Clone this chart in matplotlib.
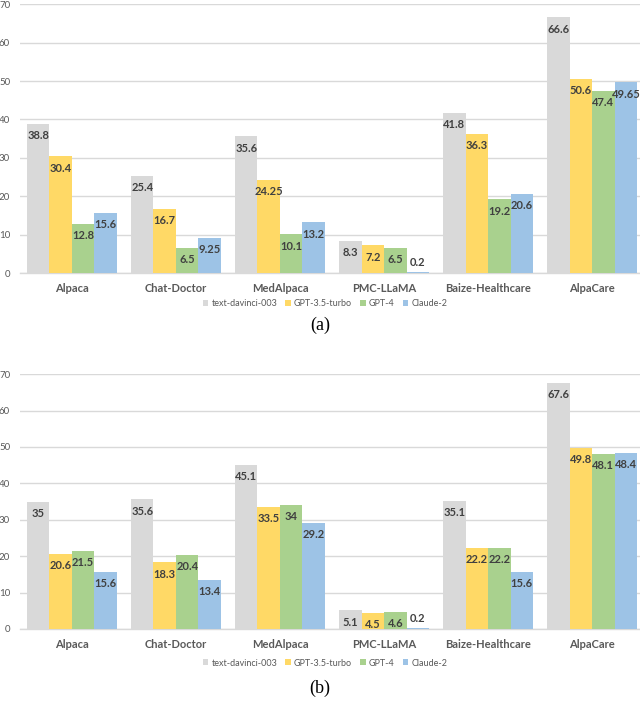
import matplotlib.pyplot as plt
import numpy as np

categories = ['Alpaca', 'Chat-Doctor', 'MedAlpaca', 'PMC-LLaMA', 'Baize-Healthcare', 'AlpaCare']
series_names = ['text-davinci-003', 'GPT-3.5-turbo', 'GPT-4', 'Claude-2']

# panel (a)
a_davinci = [38.8, 25.4, 35.6, 8.3, 41.8, 66.6]
a_gpt35 = [30.4, 16.7, 24.25, 7.2, 36.3, 50.6]
a_gpt4 = [12.8, 6.5, 10.1, 6.5, 19.2, 47.4]
a_claude = [15.6, 9.25, 13.2, 0.2, 20.6, 49.65]

# panel (b)
b_davinci = [35, 35.6, 45.1, 5.1, 35.1, 67.6]
b_gpt35 = [20.6, 18.3, 33.5, 4.5, 22.2, 49.8]
b_gpt4 = [21.5, 20.4, 34, 4.6, 22.2, 48.1]
b_claude = [15.6, 13.4, 29.2, 0.2, 15.6, 48.4]

colors = ['#d9d9d9', '#ffd966', '#a9d18e', '#9dc3e6']
grid_c = '#d9d9d9'
tick_c = '#595959'
lab_c = '#404040'

plt.rcParams['font.family'] = ['Lato', 'DejaVu Sans']


def draw_panel(ax, data, caption, leg_y, cap_y, fig):
    x = np.arange(len(categories))
    w = 0.216
    for k, vals in enumerate(data):
        pos = x + (k - 1.5) * w
        bars = ax.bar(pos, vals, w, color=colors[k], label=series_names[k], zorder=3)
        for b, v in zip(bars, vals):
            txt = ('%g' % v)
            if v < 2:
                ax.annotate(txt, (b.get_x() + b.get_width() / 2, v), xytext=(0, 3),
                            textcoords='offset points', ha='center', va='bottom',
                            fontsize=8, fontweight='bold', color=lab_c, zorder=4)
            else:
                ax.annotate(txt, (b.get_x() + b.get_width() / 2, v), xytext=(0, -4.5),
                            textcoords='offset points', ha='center', va='top',
                            fontsize=8, fontweight='bold', color=lab_c, zorder=4)
    ax.set_ylim(0, 70)
    ax.set_xlim(-0.5, 5.46)
    ax.set_yticks(range(0, 71, 10))
    ax.set_xticks(x)
    ax.set_xticklabels(categories, fontsize=8, fontweight='bold', color=tick_c)
    ax.tick_params(axis='y', labelsize=7, colors=tick_c, length=0, pad=7)
    ax.tick_params(axis='x', length=0, pad=7)
    ax.yaxis.grid(True, color=grid_c, linewidth=1, zorder=0)
    for s in ['top', 'right', 'left']:
        ax.spines[s].set_visible(False)
    ax.spines['bottom'].set_color(grid_c)
    ax.spines['bottom'].set_linewidth(1)
    h, l = ax.get_legend_handles_labels()
    leg = fig.legend(h, l, loc='center', bbox_to_anchor=(0.508, leg_y), ncol=4, frameon=False,
                     fontsize=6.5, handlelength=0.6, handleheight=0.6, handletextpad=0.35,
                     columnspacing=0.9)
    for t in leg.get_texts():
        t.set_color(tick_c)
    fig.text(0.5, cap_y, caption, ha='center', va='center', fontsize=13,
             family='Liberation Serif')


fig = plt.figure(figsize=(6.4, 7.02), dpi=100)
ax1 = fig.add_axes([0.031, 0.611, 0.969, 0.383])
ax2 = fig.add_axes([0.031, 0.104, 0.969, 0.363])

draw_panel(ax1, [a_davinci, a_gpt35, a_gpt4, a_claude], '(a)', 1 - 304 / 702, 1 - 325 / 702, fig)
draw_panel(ax2, [b_davinci, b_gpt35, b_gpt4, b_claude], '(b)', 1 - 663 / 702, 1 - 688 / 702, fig)

fig.savefig('out.png', dpi=100)
